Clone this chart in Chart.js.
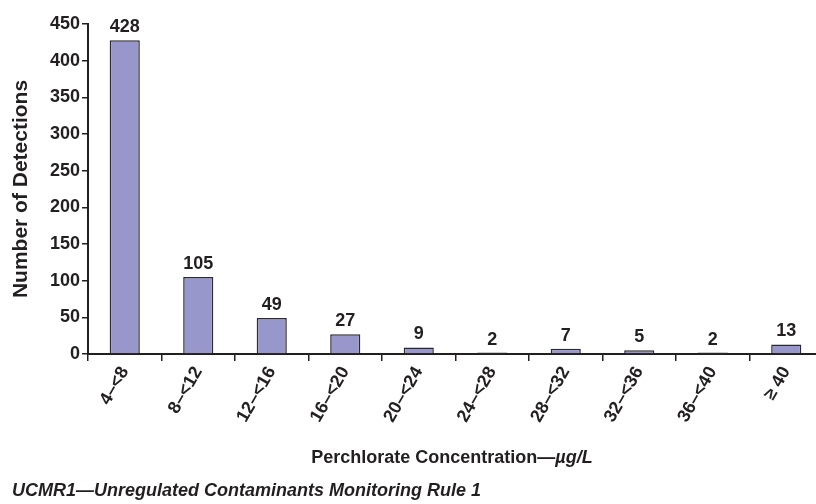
<!DOCTYPE html>
<html>
<head>
<meta charset="utf-8">
<script src="https://cdn.jsdelivr.net/npm/chart.js@4"></script>
<style>
  html, body { margin: 0; padding: 0; overflow: hidden; background: #fff; }
  #wrap { position: relative; width: 830px; height: 504px; }
</style>
</head>
<body>
<div id="wrap"><canvas id="chart" width="830" height="504"></canvas></div>
<script>
// concentration ranges (µg/L) and number of detections
const ranges = ["4–<8", "8–<12", "12–<16", "16–<20", "20–<24", "24–<28", "28–<32", "32–<36", "36–<40", "≥ 40"];
const detections = [428, 105, 49, 27, 9, 2, 7, 5, 2, 13];
const yMax = 450;
const yStep = 50;

const ink = "#231f20";
const fontFam = "'Liberation Sans', Arial, Helvetica, sans-serif";

// value labels above each bar
const barLabels = {
  id: "barLabels",
  afterDatasetsDraw(chart) {
    const ctx = chart.ctx;
    const meta = chart.getDatasetMeta(0);
    ctx.save();
    ctx.font = "bold 18px " + fontFam;
    ctx.fillStyle = ink;
    ctx.textAlign = "center";
    ctx.textBaseline = "bottom";
    meta.data.forEach((bar, i) => {
      ctx.fillText(String(detections[i]), bar.x, bar.y - 4);
    });
    ctx.restore();
  },
};

// x axis title (mixed upright / italic) and footnote
const extraText = {
  id: "extraText",
  afterDraw(chart) {
    const ctx = chart.ctx;
    ctx.save();
    ctx.fillStyle = ink;
    ctx.textBaseline = "alphabetic";
    const a = "Perchlorate Concentration—";
    const b = "µg/L";
    ctx.font = "bold 18px " + fontFam;
    const wa = ctx.measureText(a).width;
    ctx.font = "italic bold 18px " + fontFam;
    const wb = ctx.measureText(b).width;
    const cx = chart.chartArea.left + 364;
    const x = cx - (wa + wb) / 2;
    ctx.textAlign = "left";
    ctx.font = "bold 18px " + fontFam;
    ctx.fillText(a, x, 463);
    ctx.font = "italic bold 18px " + fontFam;
    ctx.fillText(b, x + wa, 463);

    ctx.font = "italic bold 18px " + fontFam;
    ctx.fillText("UCMR1—Unregulated Contaminants Monitoring Rule 1", 12, 496);
    ctx.restore();
  },
};

new Chart(document.getElementById("chart"), {
  type: "bar",
  data: {
    labels: ranges,
    datasets: [
      {
        data: detections,
        backgroundColor: "#9797cb",
        borderColor: "#2b2b2b",
        borderWidth: 1.5,
        categoryPercentage: 1,
        barPercentage: 0.41,
      },
    ],
  },
  options: {
    responsive: false,
    animation: false,
    layout: { padding: { top: 24, right: 7, left: 0, bottom: 0 } },
    plugins: {
      legend: { display: false },
      tooltip: { enabled: false },
    },
    scales: {
      x: {
        grid: {
          offset: true,
          drawOnChartArea: false,
          tickLength: 7,
          color: ink,
          lineWidth: 1.5,
        },
        border: { display: true, color: ink, width: 2 },
        ticks: {
          autoSkip: false,
          maxRotation: 60,
          minRotation: 60,
          color: ink,
          padding: 2,
          font: { family: fontFam, size: 18, weight: "bold" },
        },
        afterFit(scale) {
          scale.height = 150;
        },
      },
      y: {
        min: 0,
        max: yMax,
        grid: {
          drawOnChartArea: false,
          tickLength: 6,
          color: ink,
          lineWidth: 1.5,
        },
        border: { display: true, color: ink, width: 2 },
        ticks: {
          stepSize: yStep,
          color: ink,
          padding: 2,
          font: { family: fontFam, size: 18, weight: "bold" },
        },
        title: {
          display: true,
          text: "Number of Detections",
          color: ink,
          padding: { top: 9, bottom: 0 },
          font: { family: fontFam, size: 21, weight: "bold" },
        },
        afterFit(scale) {
          scale.width = 88;
        },
      },
    },
  },
  plugins: [barLabels, extraText],
});
</script>
</body>
</html>
